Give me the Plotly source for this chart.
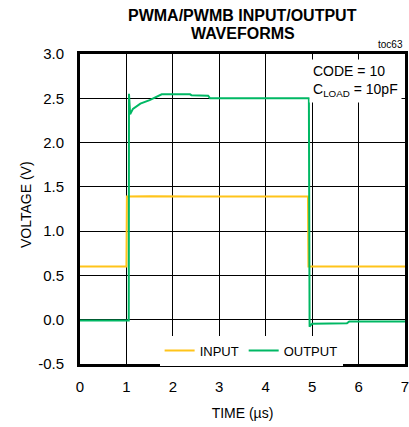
import plotly.graph_objects as go

# waveform samples
time_in = [0, 1.0, 1.01, 1.5, 2.5, 3.5, 4.91, 4.92, 5.5, 7]
volt_in = [0.6, 0.6, 1.39, 1.395, 1.39, 1.39, 1.39, 0.6, 0.6, 0.6]

time_out = [0, 0.5, 1.05, 1.055, 1.065, 1.08, 1.14, 1.3, 1.5, 1.65, 1.76,
            2.37, 2.4, 2.76, 2.8, 4.93, 4.945, 4.97, 5.0, 5.75, 5.8, 7]
volt_out = [-0.01, -0.01, -0.01, 2.55, 2.38, 2.32, 2.38, 2.44, 2.48, 2.52, 2.545,
            2.545, 2.535, 2.53, 2.5, 2.5, -0.08, -0.06, -0.045, -0.04, -0.02, -0.02]

x_ticks = [0, 1, 2, 3, 4, 5, 6, 7]
y_ticks = [-0.5, 0.0, 0.5, 1.0, 1.5, 2.0, 2.5, 3.0]

FONT = "Liberation Sans, Arial"

fig = go.Figure()
fig.add_trace(go.Scatter(x=time_in, y=volt_in, mode="lines", name="INPUT",
                         line=dict(color="#FFC41A", width=2)))
fig.add_trace(go.Scatter(x=time_out, y=volt_out, mode="lines", name="OUTPUT",
                         line=dict(color="#00B864", width=2)))

fig.update_layout(
    width=409, height=427,
    margin=dict(l=80, r=4, t=54, b=63),
    paper_bgcolor="white", plot_bgcolor="white",
    font=dict(family=FONT, size=13, color="black"),
    showlegend=True,
    legend=dict(orientation="h", x=0.245, y=-0.005, xanchor="left", yanchor="bottom",
                bgcolor="white", font=dict(size=13), itemwidth=30,
                tracegroupgap=0),
)
fig.update_xaxes(range=[0, 7], tickvals=x_ticks, ticktext=[str(v) for v in x_ticks],
                 showgrid=True, gridcolor="black", gridwidth=1,
                 zeroline=False, showline=True, linecolor="black", linewidth=3, mirror=True,
                 ticks="", automargin=False, tickfont=dict(size=15), ticklabelstandoff=7,
                 ticklabeloverflow="allow",
                 title=dict(text="TIME (µs)", font=dict(size=14)))
fig.update_yaxes(range=[-0.5, 3.0], tickvals=y_ticks, ticktext=[f"{v:.1f}" for v in y_ticks],
                 showgrid=True, gridcolor="black", gridwidth=1, zeroline=False, showline=True,
                 linecolor="black", linewidth=3, mirror=True, ticks="", automargin=False,
                 tickfont=dict(size=15), ticklabelstandoff=10)

# title, two lines set close together
fig.add_annotation(xref="paper", yref="paper", x=0.5, y=1.0, yshift=39, xanchor="center",
                   yanchor="middle", text="<b>PWMA/PWMB INPUT/OUTPUT</b>",
                   showarrow=False, font=dict(size=16))
fig.add_annotation(xref="paper", yref="paper", x=0.5, y=1.0, yshift=21, xanchor="center",
                   yanchor="middle", text="<b>WAVEFORMS</b>",
                   showarrow=False, font=dict(size=16))
fig.add_annotation(xref="paper", yref="paper", x=0.0, y=0.5, xshift=-54, yshift=4,
                   xanchor="center", yanchor="middle", textangle=-90, text="VOLTAGE (V)",
                   showarrow=False, font=dict(size=14))
fig.add_annotation(xref="paper", yref="paper", x=1.0, y=1.0, yshift=2, xanchor="right",
                   yanchor="bottom", text="toc63", showarrow=False, font=dict(size=10))
fig.add_annotation(xref="paper", yref="paper", x=0.99, y=0.985, xanchor="right", yanchor="top",
                   text="CODE = 10<br>C<sub>LOAD</sub> = 10pF", align="left", showarrow=False,
                   bgcolor="white", borderpad=3, font=dict(size=14))

# drop the default body margin so the figure sits at the window's corner
fig.write_html("out.html", config={"displayModeBar": False},
               post_script="document.body.style.margin='0';")
